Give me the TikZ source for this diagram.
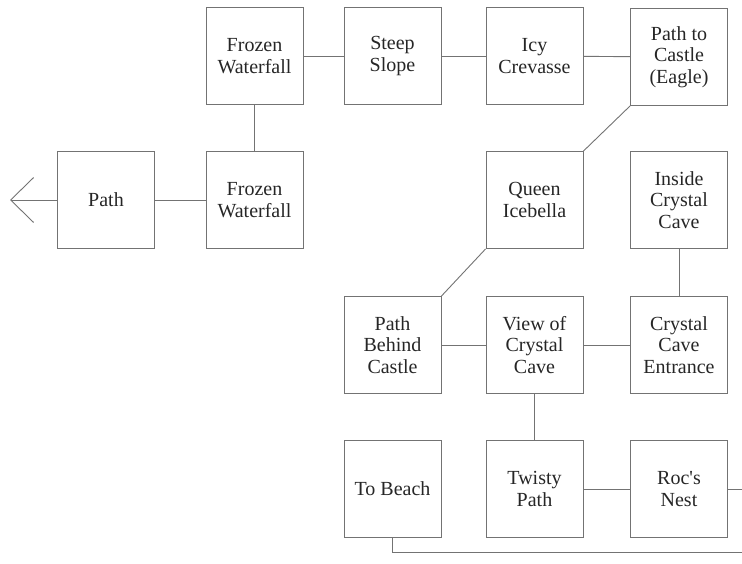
\documentclass[tikz,border=0pt]{standalone}
\usepackage{fontspec}
\setmainfont{Liberation Serif}
\usetikzlibrary{arrows.meta}
\tikzset{>={Straight Barb[length=23pt,width=45pt]}}
\tikzset{room/.style={draw=black!55, line width=0.9pt, minimum width=97pt,
    minimum height=97pt, align=center, inner sep=2pt, text=black!85,
    font=\fontsize{20}{21.5}\selectfont},
  link/.style={draw=black!55, line width=0.9pt}}

\begin{document}
\begin{tikzpicture}[x=1pt,y=-1pt]
  \useasboundingbox (0,0) rectangle (742,563);
  % Top row of rooms
  \node[room] (fwtop) at (254.5,56) {Frozen\\Waterfall};
  \node[room] (slope) at (392.5,56) {Steep\\Slope};
  \node[room] (crevasse) at (534.5,56) {Icy\\Crevasse};
  \node[room] (castle) at (679,57) {Path to\\Castle\\(Eagle)};
  % Second row
  \node[room] (path) at (106,200) {Path};
  \node[room] (fwmid) at (254.5,200) {Frozen\\Waterfall};
  \node[room] (queen) at (534.5,200) {Queen\\Icebella};
  \node[room] (inside) at (679,200) {Inside\\Crystal\\Cave};
  % Third row
  \node[room] (behind) at (392.5,345) {Path\\Behind\\Castle};
  \node[room] (view) at (534.5,345) {View of\\Crystal\\Cave};
  \node[room] (entrance) at (679,345) {Crystal\\Cave\\Entrance};
  % Bottom row
  \node[room] (beach) at (392.5,489) {To Beach};
  \node[room] (twisty) at (534.5,489) {Twisty\\Path};
  \node[room] (roc) at (679,489) {Roc\textquotesingle s\\Nest};
  % Free ends at the edge of the map
  \coordinate (exitw) at (10,200);
  \coordinate (exite) at (742,489);
  \coordinate (beachturn) at (beach.south |- 0,552);
  \coordinate (beachend) at (742,552);
  % Connections between rooms
  \draw[link, ->] (path) -- (exitw);
  \draw[link] (path) -- (fwmid);
  \draw[link] (fwmid) -- (fwtop);
  \draw[link] (fwtop) -- (slope);
  \draw[link] (slope) -- (crevasse);
  \draw[link] (crevasse) -- (castle);
  \draw[link] (castle.south west) -- (queen.north east);
  \draw[link] (queen.south west) -- (behind.north east);
  \draw[link] (behind) -- (view);
  \draw[link] (view) -- (entrance);
  \draw[link] (entrance) -- (inside);
  \draw[link] (view) -- (twisty);
  \draw[link] (twisty) -- (roc);
  \draw[link] (roc) -- (exite);
  \draw[link] (beach.south) -- (beachturn) -- (beachend);
\end{tikzpicture}
\end{document}
